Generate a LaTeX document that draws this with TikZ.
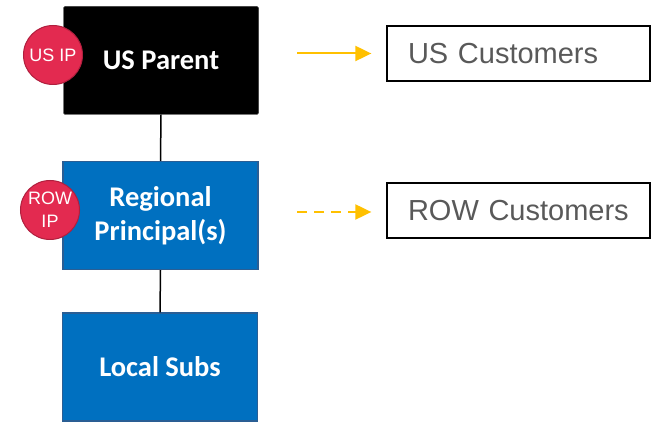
\documentclass[tikz,border=0pt]{standalone}
\usepackage{fontspec}
\setmainfont{Liberation Sans}
\newfontfamily\boxfont{Carlito}
\usetikzlibrary{arrows.meta, positioning}

\definecolor{entblue}{HTML}{0070C0}
\definecolor{entbluedark}{HTML}{2A5E94}
\definecolor{ipred}{HTML}{E32A50}
\definecolor{ipreddark}{HTML}{B01F3E}
\definecolor{flowyellow}{HTML}{FFC000}
\definecolor{custgray}{HTML}{595959}

\tikzset{
    entity/.style={minimum width=195pt, minimum height=108pt, inner sep=0pt,
        text=white, align=center, font=\boxfont\bfseries\fontsize{28.5}{34}\selectfont},
    blueentity/.style={entity, fill=entblue, draw=entbluedark, line width=1.2pt},
    ipdot/.style={circle, minimum size=59pt, inner sep=0pt, fill=ipred, draw=ipreddark,
        line width=1pt, text=white, align=center, font=\fontsize{18}{23}\selectfont},
    custbox/.style={draw=black, line width=1.3pt, minimum height=55pt, inner xsep=21pt,
        text width=221pt, align=left, text=custgray, font=\fontsize{29}{34}\selectfont},
    flow/.style={flowyellow, line width=2pt, -{Triangle[length=16pt, width=15pt]}, shorten >=15pt}
}

\begin{document}
\begin{tikzpicture}[x=1pt, y=-1pt]
        \useasboundingbox (0, 0) rectangle (654, 422);

        % entities
        \node[entity, fill=black, draw=black!85, rounded corners=1.5pt] (parent) at (161, 60.5) {US Parent};
        \node[blueentity] (regional) at (160.5, 215.5) {Regional\\Principal(s)};
        \node[blueentity] (local) at (160, 367) {Local Subs};

        \draw[line width=1.5pt] (parent.south) -- (regional.north)
            (regional.south) -- (local.north);

        % IP owners
        \node[ipdot] (usip) at (53, 55) {US IP};
        \node[ipdot] (rowip) at (50, 210) {ROW\\IP};

        % customers
        \node[custbox] (uscust) at (518.5, 53.5) {US Customers};
        \node[custbox] (rowcust) at (518.5, 210.5) {ROW Customers};

        \coordinate (usflow) at (297, 53.5);
        \coordinate (rowflow) at (297, 212);
        \draw[flow] (usflow) -- (usflow -| uscust.west);
        \draw[flow, dash pattern=on 10pt off 7pt] (rowflow) -- (rowflow -| rowcust.west);
    \end{tikzpicture}
\end{document}
